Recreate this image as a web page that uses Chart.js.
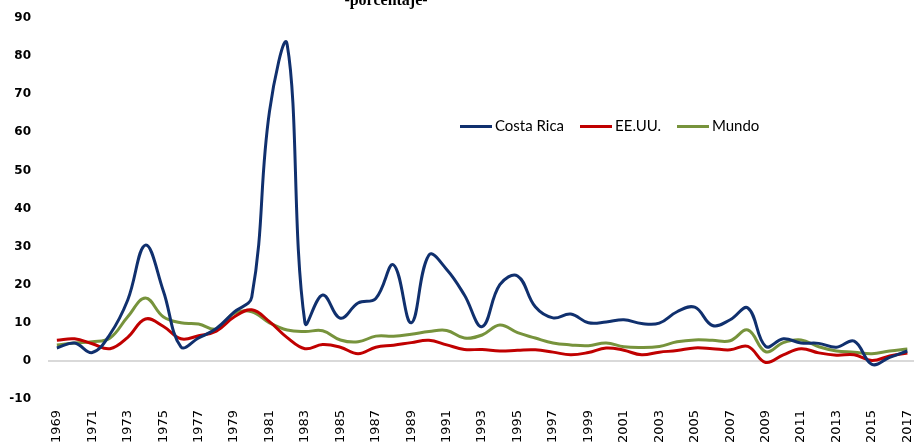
<!DOCTYPE html>
<html>
<head>
<meta charset="utf-8">
<script src="https://cdn.jsdelivr.net/npm/chart.js@4/dist/chart.umd.min.js"></script>
<style>
  body { margin: 0; overflow: hidden; background: #fff; }
  #wrap { position: relative; width: 934px; height: 446px; }
  #legend { position: absolute; left: 460px; top: 116px; font-family: Lato, "Open Sans", sans-serif; font-size: 15px; color: #000; white-space: nowrap; }
  #legend span.item { display: inline-block; margin-right: 16px; }
  #legend span.swatch { display: inline-block; width: 32px; height: 3px; vertical-align: middle; margin-right: 3px; position: relative; top: -1px; }
</style>
</head>
<body>
<div id="wrap">
  <canvas id="chart"></canvas>
  <div id="legend"></div>
</div>
<script>
const years = []
for (let y = 1969; y <= 2017; y++) years.push(String(y))

const costaRica = [3.4, 4.7, 2.2, 7.0, 16.0, 30.4, 18.5, 3.7, 6.0, 8.5, 12.8, 16.8, 65.5, 83.0, 10.0, 17.3,
    11.2, 15.2, 16.4, 25.2, 10.0, 27.8, 24.0, 17.3, 9.0, 20.0, 22.3, 14.2, 11.3, 12.3, 10.0, 10.2,
    10.8, 9.8, 9.9, 12.9, 14.1, 9.3, 10.8, 13.9, 3.8, 5.8, 4.7, 4.6, 3.6, 5.2, -0.9, 0.9, 2.6]
const eeuu = [5.4, 5.8, 4.5, 3.2, 6.2, 11.0, 9.1, 5.8, 6.6, 7.8, 11.5, 13.4, 10.3, 6.1, 3.2, 4.3,
    3.6, 1.9, 3.6, 4.1, 4.8, 5.4, 4.2, 3.0, 3.0, 2.6, 2.8, 2.9, 2.3, 1.6, 2.2, 3.4,
    2.8, 1.6, 2.3, 2.7, 3.4, 3.2, 2.9, 3.8, -0.4, 1.6, 3.2, 2.1, 1.5, 1.6, 0.1, 1.3, 2.1]
const mundo = [4.2, 4.7, 5.0, 6.0, 11.6, 16.5, 11.6, 10.0, 9.7, 8.4, 12.5, 12.9, 10.0, 8.1, 7.7, 7.9,
    5.5, 5.0, 6.5, 6.5, 7.0, 7.7, 8.0, 6.0, 6.8, 9.4, 7.4, 6.0, 4.7, 4.2, 4.0, 4.7,
    3.7, 3.5, 3.8, 5.0, 5.5, 5.4, 5.3, 8.1, 2.4, 4.8, 5.5, 3.7, 2.6, 2.3, 1.9, 2.6, 3.1]

const seriesNames = ['Costa Rica', 'EE.UU.', 'Mundo']
const seriesColors = ['#10306e', '#c00000', '#77933c']
const yTicksMin = -10
const yTicksMax = 90

const titleText = '-porcentaje-'

const cutTitle = {
    id: 'cutTitle',
    afterDraw(chart) {
        const ctx = chart.ctx
        ctx.save()
        ctx.font = 'bold 16px "Liberation Serif", serif'
        ctx.fillStyle = '#000'
        ctx.textAlign = 'center'
        ctx.textBaseline = 'alphabetic'
        ctx.fillText(titleText, 386, 5)
        ctx.restore()
    }
}

const datasets = [costaRica, eeuu, mundo].map((vals, i) => ({
    label: seriesNames[i],
    data: vals,
    borderColor: seriesColors[i],
    backgroundColor: seriesColors[i],
    borderWidth: 3,
    pointRadius: 0,
    tension: 0.4,
    fill: false
}))

new Chart(document.getElementById('chart'), {
    type: 'line',
    data: { labels: years, datasets: datasets },
    options: {
        responsive: true,
        maintainAspectRatio: false,
        animation: false,
        layout: { padding: { top: 18, right: 4, left: 0, bottom: 0 } },
        plugins: {
            legend: { display: false },
            tooltip: { enabled: false }
        },
        scales: {
            x: {
                offset: true,
                afterFit: (scale) => { scale.height = 47 },
                grid: { display: false, drawTicks: false },
                border: { display: false },
                ticks: {
                    autoSkip: false,
                    maxRotation: 90,
                    minRotation: 90,
                    padding: 11,
                    color: '#000',
                    font: { family: '"DejaVu Sans"', size: 13 },
                    callback: function(value, index) {
                        return index % 2 === 0 ? this.getLabelForValue(value) : ''
                    }
                }
            },
            y: {
                min: yTicksMin,
                max: yTicksMax,
                afterFit: (scale) => { scale.width = 48 },
                border: { display: false },
                grid: {
                    // invisible ticks keep the labels off the axis without big tick padding
                    drawTicks: true,
                    tickLength: 13,
                    tickColor: 'rgba(0,0,0,0)',
                    lineWidth: 2,
                    color: (c) => c.tick && c.tick.value === 0 ? '#d9d9d9' : 'rgba(0,0,0,0)'
                },
                ticks: {
                    stepSize: 10,
                    padding: 4,
                    color: '#000',
                    font: { family: '"DejaVu Sans"', size: 12, weight: 'bold' }
                }
            }
        }
    },
    plugins: [cutTitle]
})

const legend = document.getElementById('legend')
seriesNames.forEach((name, i) => {
    const item = document.createElement('span')
    item.className = 'item'
    const sw = document.createElement('span')
    sw.className = 'swatch'
    sw.style.background = seriesColors[i]
    item.appendChild(sw)
    item.appendChild(document.createTextNode(name))
    legend.appendChild(item)
})
</script>
</body>
</html>
